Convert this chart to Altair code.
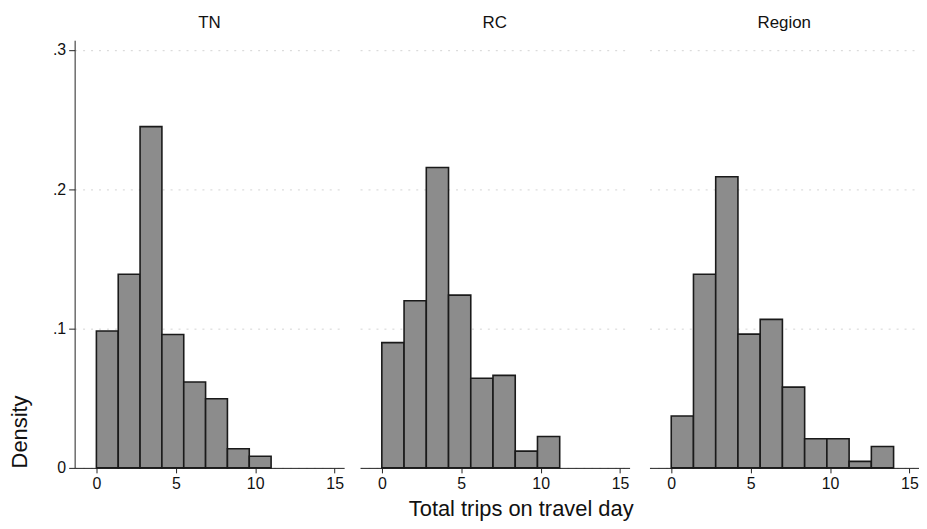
import altair as alt
import pandas as pd

# Histogram densities
panels = ["TN", "RC", "Region"]
bin_widths = [1.375, 1.4, 1.4]
tn_density = [0.0983, 0.139, 0.245, 0.0957, 0.0616, 0.0496, 0.0137, 0.0084]
rc_density = [0.0899, 0.120, 0.2156, 0.124, 0.0643, 0.0664, 0.012, 0.0225]
region_density = [0.0372, 0.139, 0.209, 0.096, 0.1066, 0.058, 0.0209, 0.0209, 0.0047, 0.0154]
densities = [tn_density, rc_density, region_density]

x_ticks = [0, 5, 10, 15]
y_ticks = [0, 0.1, 0.2, 0.3]

FONT = "Liberation Sans"
W, H = 271, 430


def make_df(vals, bw):
    rows = []
    for i, v in enumerate(vals):
        rows.append({"x0": i * bw, "x1": (i + 1) * bw, "density": v, "base": 0.0})
    return pd.DataFrame(rows)


def panel(name, vals, bw, first, middle):
    df = make_df(vals, bw)
    xaxis = alt.Axis(
        values=x_ticks, grid=False, domainColor="#222222", tickColor="#222222",
        tickSize=5, labelPadding=3, labelFontSize=16, labelFont=FONT,
        labelColor="#111111", labelFlush=False,
        title="Total trips on travel day" if middle else None,
        titleFont=FONT, titleFontSize=22, titleFontWeight="normal",
        titleColor="#111111", titlePadding=7,
        **({"titleX": W / 2 + 26} if middle else {}),
    )
    if first:
        yaxis = alt.Axis(
            values=y_ticks, grid=True, gridColor="#d4d4d4", gridDash=[2, 6],
            labelExpr="datum.value == 0 ? '0' : replace(format(datum.value, '.1f'), '0.', '.')",
            domainColor="#222222", tickColor="#222222", tickSize=6, labelPadding=3,
            labelFontSize=16, labelFont=FONT, labelColor="#111111",
            title="Density", titleFont=FONT, titleFontSize=22, titleFontWeight="normal",
            titleColor="#111111", titleAnchor="start", titlePadding=21,
        )
    else:
        yaxis = alt.Axis(
            values=y_ticks, grid=True, gridColor="#d4d4d4", gridDash=[2, 6],
            labels=False, ticks=False, domain=False, title=None,
        )
    return (
        alt.Chart(df)
        .mark_rect(fill="#8c8c8c", stroke="#1a1a1a", strokeWidth=1.6)
        .encode(
            x=alt.X("x0:Q", scale=alt.Scale(domain=[-1.37, 15.6], nice=False, zero=False), axis=xaxis),
            x2="x1:Q",
            y=alt.Y("density:Q", scale=alt.Scale(domain=[0, 0.307], nice=False), axis=yaxis),
            y2="base:Q",
        )
        .properties(
            width=W, height=H,
            title=alt.TitleParams(text=name, fontSize=17, font=FONT, fontWeight="normal",
                                  color="#111111", anchor="middle", offset=8.5),
        )
    )


charts = [panel(n, d, bw, i == 0, i == 1) for i, (n, d, bw) in enumerate(zip(panels, densities, bin_widths))]

chart = (
    alt.hconcat(*charts, spacing=16)
    .properties(padding={"left": 0, "top": 4, "right": 0, "bottom": 0}, background="white")
    .configure_view(stroke=None)
)

chart.save("out.html", embed_options={"renderer": "svg", "actions": False})
